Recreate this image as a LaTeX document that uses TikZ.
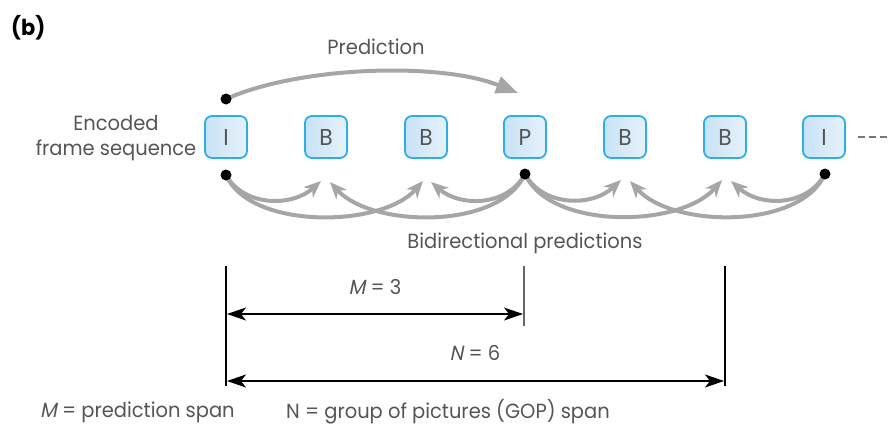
\documentclass[tikz,border=0pt]{standalone}
\usepackage{fontspec}
\setmainfont{Poppins}[FakeStretch=0.95]
\newfontfamily\slantf{Poppins}[FakeSlant=0.2,FakeStretch=0.95]
\usetikzlibrary{arrows.meta}
\definecolor{agray}{RGB}{166,166,166}
\definecolor{txt}{RGB}{85,85,85}
\definecolor{fborder}{RGB}{46,174,230}
\definecolor{fleft}{RGB}{200,226,246}
\definecolor{fright}{RGB}{230,242,251}
\tikzset{
 frame/.style={draw=fborder, line width=1.8pt, rounded corners=7pt, left color=fleft, right color=fright,
   minimum width=42pt, minimum height=42pt, inner sep=0pt, font=\fontsize{23}{24}\selectfont, text=txt},
 dotnode/.style={circle, fill=black, inner sep=0pt, minimum size=11pt},
 pred/.style={draw=agray, line width=4pt, -{Triangle[length=22pt,width=17pt]}},
 bid/.style={draw=agray, line width=4pt, -{Stealth[length=17pt,width=14pt,inset=5pt]}},
 dim/.style={draw=black, line width=1.4pt, {Stealth[length=19pt,width=13pt,inset=5pt]}-{Stealth[length=19pt,width=13pt,inset=5pt]}},
 tickline/.style={draw=black, line width=1.6pt},
 lbl/.style={text=txt, font=\fontsize{20.5}{25}\selectfont, inner sep=0pt},
}
\begin{document}
\begin{tikzpicture}[x=1pt,y=-1pt]
\useasboundingbox (0,0) rectangle (892,434);
% frames
\node[frame] (i1) at (226,137) {I};
\node[frame] (b1) at (326,137) {B};
\node[frame] (b2) at (426,137) {B};
\node[frame] (p1) at (525,137) {P};
\node[frame] (b3) at (625,137) {B};
\node[frame] (b4) at (725,137) {B};
\node[frame] (i2) at (824,137) {I};
\coordinate (ds) at (858,137);
\coordinate (de) at (890,137);
\draw[draw=txt!80, line width=2pt, dash pattern=on 7pt off 4pt] (ds) -- (de);
% dot positions
\coordinate (ctop) at (226,99);
\coordinate (ci1) at (226,175);
\coordinate (cp1) at (525,174);
\coordinate (ci2) at (825,174);
% tips
\coordinate (tp) at (518,93);
\coordinate (t1a) at (321,181);
\coordinate (t1b) at (330,182);
\coordinate (t2a) at (423,181);
\coordinate (t2b) at (431,182);
\coordinate (t3a) at (621,180);
\coordinate (t3b) at (630,181);
\coordinate (t4a) at (722,180);
\coordinate (t4b) at (731,181);
% prediction
\draw[pred] (ctop) .. controls (300,66) and (440,62) .. (tp);
% bidirectional, left half
\draw[bid] (ci1) .. controls (244,207) and (292,207) .. (t1a);
\draw[bid] (ci1) .. controls (250,230) and (382,228) .. (t2a);
\draw[bid] (cp1) .. controls (507,207) and (460,207) .. (t2b);
\draw[bid] (cp1) .. controls (500,230) and (372,228) .. (t1b);
% right half
\draw[bid] (cp1) .. controls (543,207) and (592,207) .. (t3a);
\draw[bid] (cp1) .. controls (550,230) and (680,228) .. (t4a);
\draw[bid] (ci2) .. controls (807,207) and (760,207) .. (t4b);
\draw[bid] (ci2) .. controls (800,230) and (672,228) .. (t3b);
% dots on top
\node[dotnode] (dtop) at (ctop) {};
\node[dotnode] (di1) at (ci1) {};
\node[dotnode] (dp1) at (cp1) {};
\node[dotnode] (di2) at (ci2) {};
% labels
\node[lbl, anchor=west, text=black, font=\fontsize{22}{25}\selectfont\bfseries] (lb) at (11,28) {(b)};
\node[lbl] (lpred) at (376,47) {Prediction};
\node[lbl, align=center] (lenc) at (116,138) {Encoded\\frame sequence};
\node[lbl] (lbid) at (525,243) {Bidirectional predictions};
% dimension lines
\coordinate (vla) at (226,266);
\coordinate (vlb) at (226,386);
\coordinate (vma) at (524,266);
\coordinate (vmb) at (524,326);
\coordinate (vra) at (725,266);
\coordinate (vrb) at (725,386);
\draw[tickline] (vla) -- (vlb);
\draw[tickline, draw=black!60] (vma) -- (vmb);
\draw[tickline] (vra) -- (vrb);
\coordinate (ma) at (227,314);
\coordinate (mb) at (523,314);
\coordinate (na) at (227,381);
\coordinate (nb) at (724,381);
\draw[dim] (ma) -- (mb);
\draw[dim] (na) -- (nb);
\node[lbl] (lm) at (375,287) {{\slantf M} = 3};
\node[lbl] (ln) at (475,353) {{\slantf N} = 6};
\node[lbl, anchor=west] (lms) at (40,412) {{\slantf M} = prediction span};
\node[lbl, anchor=west] (lns) at (286,412) {N = group of pictures (GOP) span};
\end{tikzpicture}
\end{document}
